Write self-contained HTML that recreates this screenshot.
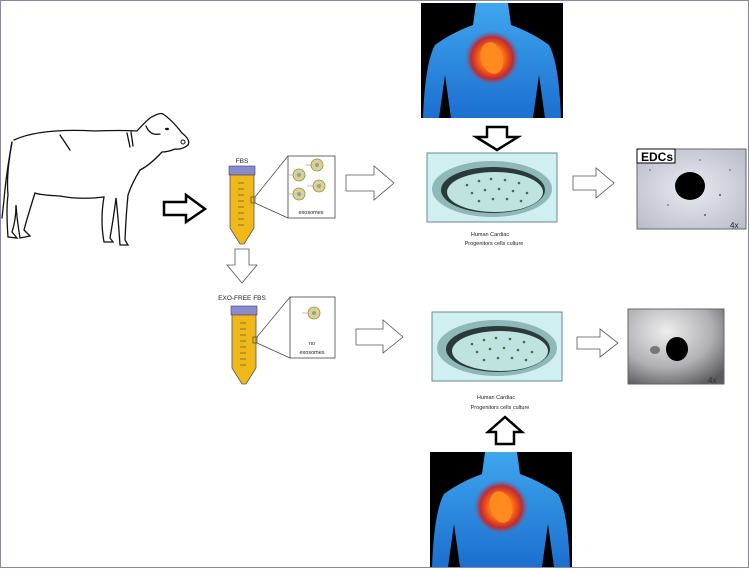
<!DOCTYPE html>
<html><head><meta charset="utf-8"><style>
html,body{margin:0;padding:0;background:#fff;}
svg{display:block;}
text{font-family:"Liberation Sans",sans-serif;}
</style></head><body>
<svg width="750" height="570" viewBox="0 0 750 570" xmlns="http://www.w3.org/2000/svg">
<defs>
<radialGradient id="heart" cx="50%" cy="50%" r="50%">
<stop offset="0" stop-color="#ffb040"/><stop offset="0.45" stop-color="#ff6a10"/><stop offset="0.75" stop-color="#d02020" stop-opacity="0.9"/><stop offset="1" stop-color="#3a7fd0" stop-opacity="0"/>
</radialGradient>
<linearGradient id="skin" x1="0" y1="0" x2="0" y2="1"><stop offset="0" stop-color="#3fa6ee"/><stop offset="1" stop-color="#1c6fd0"/></linearGradient>
<radialGradient id="micro1" cx="50%" cy="50%" r="70%"><stop offset="0" stop-color="#e8eaf0"/><stop offset="1" stop-color="#b8bcc8"/></radialGradient>
<radialGradient id="micro2" cx="40%" cy="30%" r="80%"><stop offset="0" stop-color="#eeeeee"/><stop offset="0.6" stop-color="#b0b0b4"/><stop offset="1" stop-color="#5a5a60"/></radialGradient>
<g id="body">
<rect x="0" y="0" width="142" height="115" fill="#000"/>
<path d="M55 0 L87 0 L90 22 Q112 30 128 42 Q138 60 140 115 L124 115 L118 72 L112 115 L30 115 L24 72 L18 115 L2 115 Q4 60 14 42 Q30 30 52 22 Z" fill="url(#skin)"/>
<circle cx="71" cy="55" r="28" fill="url(#heart)"/>
<ellipse cx="71" cy="55" rx="11" ry="16" fill="#ff8a20" transform="rotate(-15 71 55)"/>
</g>
<g id="dish">
<rect x="0" y="0" width="130" height="69" fill="#cfeff0" stroke="#6a8a90"/>
<ellipse cx="65" cy="36" rx="60" ry="28" fill="#8fb8b8"/>
<ellipse cx="66" cy="37" rx="52" ry="23" fill="#2a3a3a"/>
<ellipse cx="68" cy="39" rx="48" ry="20" fill="#bfe3df"/>
<g fill="#4a6a50">
<circle cx="40" cy="32" r="1.3"/><circle cx="52" cy="28" r="1.3"/><circle cx="64" cy="26" r="1.3"/><circle cx="78" cy="27" r="1.3"/><circle cx="92" cy="30" r="1.3"/>
<circle cx="45" cy="40" r="1.3"/><circle cx="58" cy="37" r="1.3"/><circle cx="72" cy="36" r="1.3"/><circle cx="86" cy="38" r="1.3"/><circle cx="100" cy="40" r="1.3"/>
<circle cx="52" cy="48" r="1.3"/><circle cx="66" cy="46" r="1.3"/><circle cx="80" cy="46" r="1.3"/><circle cx="94" cy="48" r="1.3"/></g>
</g>
<g id="tube">
<rect x="-1" y="0" width="26" height="9" fill="#8a8ad0" stroke="#444" stroke-width="0.6"/>
<path d="M0 9 L24 9 L24 62 L14 78 L10 78 L0 62 Z" fill="#f0b818" stroke="#555" stroke-width="0.8"/>
<g stroke="#664" stroke-width="0.8"><line x1="8" y1="17" x2="14" y2="17"/><line x1="8" y1="23" x2="14" y2="23"/><line x1="8" y1="29" x2="14" y2="29"/><line x1="8" y1="35" x2="14" y2="35"/><line x1="8" y1="41" x2="14" y2="41"/><line x1="8" y1="47" x2="14" y2="47"/><line x1="8" y1="53" x2="14" y2="53"/><line x1="8" y1="59" x2="14" y2="59"/></g>
<rect x="21" y="31" width="4" height="6" fill="none" stroke="#444" stroke-width="0.7"/>
</g>
<g id="exo"><circle r="6" fill="#e0d090" stroke="#9a8a40" stroke-width="0.8"/><circle r="2" fill="#7ab"/><line x1="-6" y1="0" x2="-12" y2="0" stroke="#999" stroke-width="0.6"/></g>
</defs>
<rect x="0.5" y="0.5" width="748" height="567" fill="#fff" stroke="#8a86b0"/>

<!-- cow -->
<g fill="none" stroke="#111" stroke-width="1.3" stroke-linecap="round">
<path d="M14 140 Q40 128 95 131 Q120 130 137 131 Q145 122 150 118 Q160 112 163 114 Q172 120 182 133 Q191 140 188 145 Q182 150 175 149 Q168 152 162 152 Q150 165 140 170 Q132 183 128 195 Q126 215 125 240 L128 245 L120 245 Q118 215 116 198 Q114 215 110 238 L113 242 L104 242 Q100 220 104 197 Q80 200 60 196 Q40 195 35 193 Q28 215 24 230 L30 236 L20 238 Q17 220 16 205 Q16 220 12 232 L17 238 L8 237 Q6 210 8 195 Q6 175 12 142"/>
<path d="M12 142 Q6 175 4 200 L2 218"/>
<path d="M146 126 Q150 136 160 134"/>
<path d="M127 133 L130 147 M131 132 L133 146"/>
<path d="M60 135 L70 150"/>
</g>
<circle cx="183" cy="142" r="2" fill="none" stroke="#111"/>
<ellipse cx="167" cy="129" rx="2" ry="1.2" fill="#111"/>

<!-- bodies and dishes -->
<use href="#body" x="421" y="3"/>
<use href="#body" x="430" y="452"/>
<use href="#dish" x="427" y="153"/>
<use href="#dish" x="432" y="312"/>
<text x="490" y="236" font-size="5.5" text-anchor="middle" fill="#222">Human Cardiac</text>
<text x="494" y="245" font-size="5.5" text-anchor="middle" fill="#222">Progenitors cells culture</text>
<text x="496" y="399" font-size="5.5" text-anchor="middle" fill="#222">Human Cardiac</text>
<text x="500" y="409" font-size="5.5" text-anchor="middle" fill="#222">Progenitors cells culture</text>

<!-- microscopy -->
<rect x="637" y="149" width="109" height="80" fill="url(#micro1)" stroke="#666"/>
<g fill="#555"><circle cx="650" cy="170" r="0.8"/><circle cx="700" cy="160" r="0.8"/><circle cx="720" cy="195" r="1"/><circle cx="668" cy="205" r="0.8"/><circle cx="730" cy="170" r="0.8"/><circle cx="705" cy="215" r="1"/></g>
<ellipse cx="690" cy="186" rx="15" ry="14" fill="#000"/>
<rect x="637" y="149" width="38" height="14" fill="#fff" stroke="#000"/>
<text x="641" y="161" font-size="12" font-weight="bold" fill="#000">EDCs</text>
<text x="730" y="228" font-size="8" fill="#222">4x</text>
<rect x="628" y="309" width="96" height="75" fill="url(#micro2)" stroke="#666"/>
<ellipse cx="655" cy="350" rx="5" ry="4" fill="#777"/>
<ellipse cx="677" cy="349" rx="11" ry="12" fill="#000"/>
<text x="708" y="383" font-size="8" fill="#333">4x</text>

<!-- black arrows -->
<path d="M164 202 L186 202 L186 195 L205 209 L186 222 L186 215 L164 215 Z" fill="#fff" stroke="#000" stroke-width="2.5"/>
<path d="M487 127 L507 127 L507 137 L518 137 L497 150 L476 137 L487 137 Z" fill="#fff" stroke="#000" stroke-width="2.5"/>
<path d="M496 444 L514 444 L514 432 L522 432 L505 417 L488 432 L496 432 Z" fill="#fff" stroke="#000" stroke-width="2.5"/>

<!-- white arrows -->
<g fill="#fff" stroke="#555" stroke-width="0.8">
<path d="M346 175 L374 175 L374 166 L394 183 L374 200 L374 191 L346 191 Z"/>
<path d="M356 329 L383 329 L383 320 L403 337 L383 353 L383 345 L356 345 Z"/>
<path d="M573 176 L596 176 L596 168 L614 183 L596 198 L596 190 L573 190 Z"/>
<path d="M577 337 L600 337 L600 329 L618 343 L600 357 L600 349 L577 349 Z"/>
<path d="M235 249 L249 249 L249 265 L257 265 L242 283 L227 265 L235 265 Z"/>
</g>

<!-- tubes -->
<text x="242" y="163" font-size="6.5" text-anchor="middle" fill="#222">FBS</text>
<use href="#tube" x="230" y="166"/>
<text x="242" y="300" font-size="6.5" text-anchor="middle" fill="#222">EXO-FREE FBS</text>
<use href="#tube" x="232" y="306"/>

<!-- zoom boxes -->
<g stroke="#444" stroke-width="0.7" fill="none">
<line x1="255" y1="197" x2="288" y2="156"/><line x1="255" y1="203" x2="288" y2="218"/>
<line x1="257" y1="337" x2="290" y2="297"/><line x1="257" y1="343" x2="290" y2="358"/>
</g>
<rect x="288" y="156" width="47" height="62" fill="#fff" stroke="#444" stroke-width="0.8"/>
<rect x="290" y="297" width="45" height="61" fill="#fff" stroke="#444" stroke-width="0.8"/>
<use href="#exo" x="317" y="165"/><use href="#exo" x="299" y="175"/><use href="#exo" x="319" y="186"/><use href="#exo" x="299" y="194"/>
<use href="#exo" x="314" y="313"/>
<text x="311" y="214" font-size="5.5" text-anchor="middle" fill="#222">exosomes</text>
<text x="312" y="345" font-size="5.5" text-anchor="middle" fill="#222">no</text>
<text x="312" y="354" font-size="5.5" text-anchor="middle" fill="#222">exosomes</text>
</svg>
</body></html>
